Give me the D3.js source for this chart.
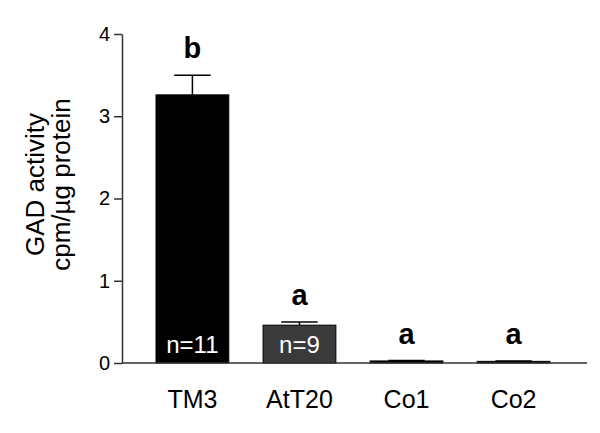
<!DOCTYPE html>
<html lang="en">
<head>
    <meta charset="UTF-8" />
    <title>GAD activity</title>
    <script src="https://d3js.org/d3.v7.min.js"></script>
    <style>
        body { margin: 0; background: #fff; }
        text { font-family: "Liberation Sans", Arial, sans-serif; }
    </style>
</head>
<body>
    <div id="container"></div>
    <script>
        const categories = ["TM3", "AtT20", "Co1", "Co2"]
        const means = [3.26, 0.46, 0.025, 0.02]
        const errors = [0.24, 0.04, 0.005, 0.005]
        const letters = ["b", "a", "a", "a"]
        const counts = ["n=11", "n=9", "", ""]
        const fills = ["#000000", "#3a3a3a", "#000000", "#000000"]
        const yTicks = [0, 1, 2, 3, 4]

        const width = 600
        const height = 433
        const margin = { top: 34, right: 13, bottom: 70, left: 122 }

        const svg = d3.select("#container")
            .append("svg")
            .attr("width", width)
            .attr("height", height)

        const x = d3.scaleBand()
            .domain(categories)
            .range([156, 550])
            .paddingInner(0.32)
            .paddingOuter(0)

        const y = d3.scaleLinear()
            .domain([0, 4])
            .range([height - margin.bottom, margin.top])

        // bars
        svg.selectAll("rect.bar")
            .data(categories)
            .join("rect")
            .attr("class", "bar")
            .attr("x", d => x(d))
            .attr("width", x.bandwidth())
            .attr("y", (d, i) => y(means[i]))
            .attr("height", (d, i) => y(0) - y(means[i]))
            .attr("fill", (d, i) => fills[i])
            .attr("stroke", "#000")
            .attr("stroke-width", 1)

        // error bars (upper only)
        const err = svg.append("g")
            .attr("stroke", "#000")
            .attr("stroke-width", 1.5)
        categories.forEach((c, i) => {
            const cx = x(c) + x.bandwidth() / 2
            err.append("line")
                .attr("x1", cx).attr("x2", cx)
                .attr("y1", y(means[i])).attr("y2", y(means[i] + errors[i]))
            err.append("line")
                .attr("x1", cx - x.bandwidth() / 4).attr("x2", cx + x.bandwidth() / 4)
                .attr("y1", y(means[i] + errors[i])).attr("y2", y(means[i] + errors[i]))
        })

        // significance letters
        svg.selectAll("text.letter")
            .data(categories)
            .join("text")
            .attr("class", "letter")
            .attr("x", d => x(d) + x.bandwidth() / 2)
            .attr("y", (d, i) => y(means[i] + errors[i]) - 17)
            .attr("text-anchor", "middle")
            .attr("font-size", 29)
            .attr("font-weight", "bold")
            .text((d, i) => letters[i])

        // n labels inside bars
        svg.selectAll("text.count")
            .data(categories)
            .join("text")
            .attr("class", "count")
            .attr("x", d => x(d) + x.bandwidth() / 2)
            .attr("y", y(0) - 10)
            .attr("text-anchor", "middle")
            .attr("font-size", 24)
            .attr("fill", "#fff")
            .text((d, i) => counts[i])

        // y axis
        const yAxis = svg.append("g")
            .attr("transform", `translate(${margin.left},0)`)
            .call(d3.axisLeft(y).tickValues(yTicks).tickFormat(d3.format("d"))
                .tickSize(8).tickPadding(4).tickSizeOuter(0))
        yAxis.select(".domain").attr("stroke", "#333").attr("stroke-width", 1.5)
        yAxis.selectAll(".tick line").attr("stroke", "#333").attr("stroke-width", 1.5)
        yAxis.selectAll(".tick text")
            .attr("font-size", 20)
            .attr("font-family", "Liberation Sans, Arial, sans-serif")
            .attr("fill", "#000")

        // x axis baseline
        svg.append("line")
            .attr("x1", margin.left)
            .attr("x2", width - margin.right)
            .attr("y1", y(0))
            .attr("y2", y(0))
            .attr("stroke", "#333")
            .attr("stroke-width", 1.5)

        // category labels
        svg.selectAll("text.cat")
            .data(categories)
            .join("text")
            .attr("class", "cat")
            .attr("x", d => x(d) + x.bandwidth() / 2)
            .attr("y", 408)
            .attr("text-anchor", "middle")
            .attr("font-size", 25)
            .text(d => d)

        // y title
        const title = svg.append("text")
            .attr("transform", `translate(44,${y(2) - 14}) rotate(-90)`)
            .attr("text-anchor", "middle")
            .attr("font-size", 26)
        title.append("tspan").attr("x", 0).attr("dy", 0).text("GAD activity")
        title.append("tspan").attr("x", 0).attr("dy", 26).text("cpm/µg protein")
    </script>
</body>
</html>
